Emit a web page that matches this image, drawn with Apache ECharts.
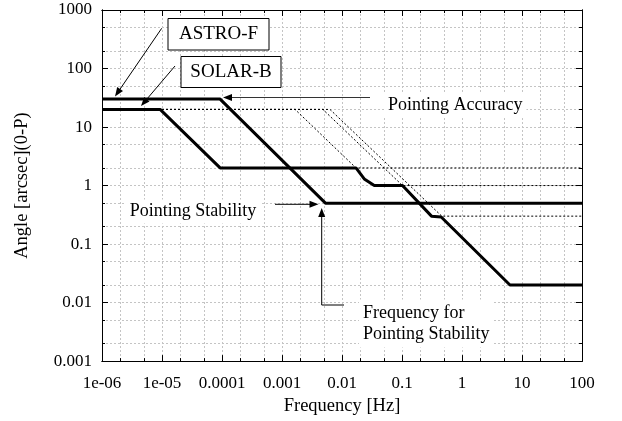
<!DOCTYPE html>
<html><head><meta charset="utf-8">
<script src="https://cdn.jsdelivr.net/npm/echarts@6/dist/echarts.min.js"></script>
<style>html,body{margin:0;padding:0;background:#fff}#c{width:622px;height:421px}</style>
</head><body><div id="c"></div>
<script>
// ---- data ----
const xTickValues = [1e-6, 1e-5, 1e-4, 1e-3, 1e-2, 1e-1, 1, 10, 100];
const xTickLabels = ['1e-06', '1e-05', '0.0001', '0.001', '0.01', '0.1', '1', '10', '100'];
const yTickValues = [0.001, 0.01, 0.1, 1, 10, 100, 1000];
const yTickLabels = ['0.001', '0.01', '0.1', '1', '10', '100', '1000'];
const xGridValues = [1e-6,2e-6,5e-6,1e-5,2e-5,5e-5,1e-4,2e-4,5e-4,1e-3,2e-3,5e-3,1e-2,2e-2,5e-2,0.1,0.2,0.5,1,2,5,10,20,50,100];
const yGridValues = [0.001,0.002,0.005,0.01,0.02,0.05,0.1,0.2,0.5,1,2,5,10,20,50,100,200,500,1000];

const astroF = [[1e-6,30],[9.3e-5,30],[5.3e-3,0.5],[100,0.5]];
const solarB = [[1e-6,20],[9.3e-6,20],[9.3e-5,2],[0.0171,2],[0.0235,1.3],[0.0345,1],[0.102,1],[0.31,0.3],[0.45,0.29],[6.3,0.02],[100,0.02]];
const dash1 = [[1e-6,20],[1.65e-3,20],[0.0171,2],[100,2]];
const dash2 = [[1e-6,20],[4.8e-3,20],[0.102,1],[100,1]];
const dash3 = [[1e-6,20],[6.3e-3,20],[0.46,0.3],[100,0.3]];

// ---- chart ----
const FONT = '"Liberation Serif", "Times New Roman", serif';
const gridStyle = {color: '#c4c4c4', width: 1, type: [2, 2]};
function lbl(vals, labs) {
  return v => {
    const i = vals.findIndex(t => Math.abs(Math.log10(t) - Math.log10(v)) < 1e-6);
    return i >= 0 ? labs[i] : '';
  };
}
function mkX(pos, opts) {
  const showLabel = !!opts.label;
  const a = {
    type: 'log', logBase: 10, min: 1e-6, max: 100, interval: 1, position: pos,
    axisLine: {show: true, onZero: false, lineStyle: {color: '#000', width: 1}},
    axisTick: {show: true, inside: true, length: opts.tickLen, lineStyle: {color: '#000'}},
    axisLabel: {show: showLabel, formatter: lbl(xTickValues, xTickLabels), fontFamily: FONT, fontSize: 17, color: '#000', margin: 14},
    splitLine: {show: !!opts.split, lineStyle: gridStyle}
  };
  if (opts.custom) a.axisTick.customValues = xGridValues;
  return a;
}
function mkY(pos, opts) {
  const showLabel = !!opts.label;
  const a = {
    type: 'log', logBase: 10, min: 0.001, max: 1000, interval: 1, position: pos,
    axisLine: {show: true, onZero: false, lineStyle: {color: '#000', width: 1}},
    axisTick: {show: true, inside: true, length: opts.tickLen, lineStyle: {color: '#000'}},
    axisLabel: {show: showLabel, formatter: lbl(yTickValues, yTickLabels), fontFamily: FONT, fontSize: 17, color: '#000', margin: 10},
    splitLine: {show: !!opts.split, lineStyle: gridStyle}
  };
  if (opts.custom) a.axisTick.customValues = yGridValues;
  return a;
}
const xMain = Object.assign(mkX('bottom', {label: true, split: true, custom: true, tickLen: 3}),
  {name: 'Frequency [Hz]', nameLocation: 'middle', nameGap: 34, nameTextStyle: {fontFamily: FONT, fontSize: 18.5, color: '#000'}});
const yMain = Object.assign(mkY('left', {label: true, split: true, custom: true, tickLen: 3}),
  {name: 'Angle [arcsec](0-P)', nameLocation: 'middle', nameGap: 70, nameTextStyle: {fontFamily: FONT, fontSize: 18.5, color: '#000'}});

const dashStyle = {color: '#000', width: 1, type: [2, 2]};
const thickStyle = {color: '#000', width: 3};

function arrowHead(x1, y1, x2, y2, len, hw) {
  const dx = x2 - x1, dy = y2 - y1, d = Math.hypot(dx, dy);
  const ux = dx / d, uy = dy / d, px = -uy, py = ux;
  const bx = x2 - ux * len, by = y2 - uy * len;
  return {type: 'polygon', z: 100, shape: {points: [[x2, y2], [bx + px * hw, by + py * hw], [bx - px * hw, by - py * hw]]}, style: {fill: '#000'}};
}
function arrow(x1, y1, x2, y2, color) {
  const d = Math.hypot(x2 - x1, y2 - y1);
  return [
    {type: 'line', z: 100, shape: {x1, y1, x2: x2 - (x2 - x1) / d * 6, y2: y2 - (y2 - y1) / d * 6}, style: {stroke: color || '#000', lineWidth: 1}},
    arrowHead(x1, y1, x2, y2, 9, 3.5)
  ];
}
function textEl(x, y, txt, opts) {
  return {type: 'text', z: 100, x, y, style: Object.assign({text: txt, font: '18px ' + FONT, fill: '#000', verticalAlign: 'middle', align: 'left', backgroundColor: '#fff'}, opts || {})};
}

const graphics = [].concat(
  [{type: 'rect', z: 100, shape: {x: 168, y: 18.5, width: 101, height: 31.5}, style: {fill: '#fff', stroke: '#000', lineWidth: 1}},
   textEl(218.5, 34.5, 'ASTRO-F', {align: 'center', backgroundColor: null, font: '19px ' + FONT}),
   {type: 'rect', z: 100, shape: {x: 181, y: 56.5, width: 100, height: 31}, style: {fill: '#fff', stroke: '#000', lineWidth: 1}},
   textEl(231, 72.5, 'SOLAR-B', {align: 'center', backgroundColor: null, font: '19px ' + FONT})],
  arrow(161.7, 28.3, 115, 96.5),
  arrow(175, 66, 141, 106),
  arrow(370, 97.5, 223, 97.5, '#333'),
  [textEl(384, 105, 'Pointing Accuracy', {padding: [3, 4]})],
  [textEl(125.7, 211.5, 'Pointing Stability', {padding: [3, 4]})],
  arrow(275, 204.3, 318.5, 204.3),
  [{type: 'polyline', z: 100, shape: {points: [[344, 305], [321.7, 305], [321.7, 214]]}, style: {stroke: '#000', fill: null, lineWidth: 1}},
   arrowHead(321.7, 305, 321.7, 208, 9, 3.5)],
  [textEl(359, 323.5, 'Frequency for\nPointing Stability', {lineHeight: 21, padding: [3, 4]})]
);

const option = {
  animation: false,
  backgroundColor: '#fff',
  grid: {left: 102, right: 40, top: 10, bottom: 59, show: false},
  xAxis: [xMain, mkX('top', {custom: true, tickLen: 3}), mkX('bottom', {tickLen: 6}), mkX('top', {tickLen: 6})],
  yAxis: [yMain, mkY('right', {custom: true, tickLen: 3}), mkY('left', {tickLen: 6}), mkY('right', {tickLen: 6})],
  series: [
    {type: 'line', name: 'd1', data: dash1, symbol: 'none', lineStyle: dashStyle, z: 3},
    {type: 'line', name: 'd2', data: dash2, symbol: 'none', lineStyle: dashStyle, z: 3},
    {type: 'line', name: 'd3', data: dash3, symbol: 'none', lineStyle: dashStyle, z: 3},
    {type: 'line', name: 'ASTRO-F', data: astroF, symbol: 'none', lineStyle: thickStyle, z: 5},
    {type: 'line', name: 'SOLAR-B', data: solarB, symbol: 'none', lineStyle: thickStyle, z: 5}
  ],
  graphic: graphics
};
const chart = echarts.init(document.getElementById('c'), null, {renderer: 'canvas'});
chart.setOption(option);
</script></body></html>
